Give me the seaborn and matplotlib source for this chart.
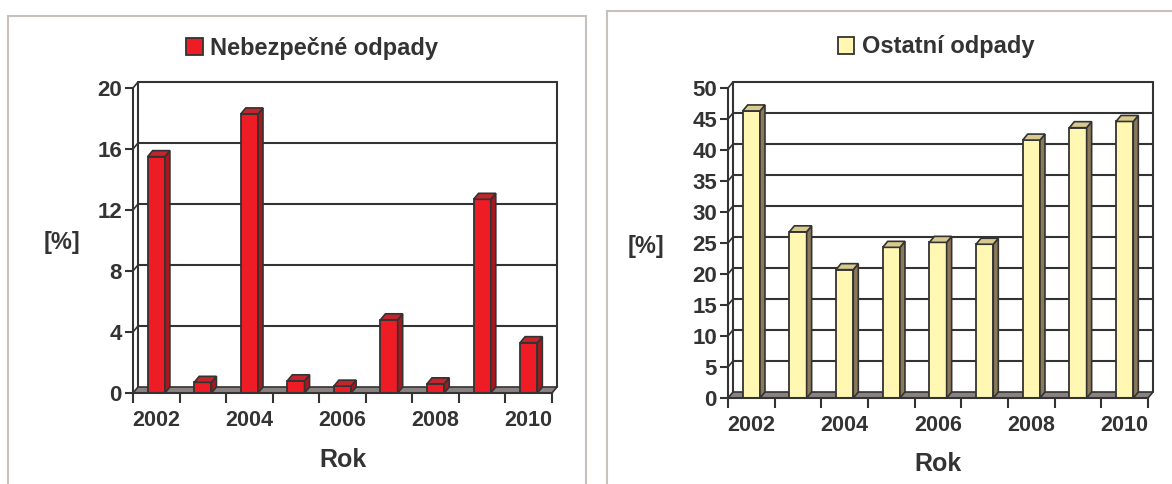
import matplotlib
matplotlib.use("Agg")
import matplotlib.pyplot as plt
import seaborn as sns
from matplotlib.patches import Polygon, Rectangle

years = ["2002", "2003", "2004", "2005", "2006", "2007", "2008", "2009", "2010"]
year_labels = ["2002", "", "2004", "", "2006", "", "2008", "", "2010"]
hazardous = [15.5, 0.7, 18.3, 0.8, 0.45, 4.8, 0.6, 12.7, 3.3]
other = [46.3, 26.8, 20.7, 24.3, 25.1, 24.8, 41.6, 43.6, 44.6]

DARK = "#333333"
FLOOR = "#8a8280"
W, H = 1172, 484

sns.set_style("white")
plt.rcParams["font.family"] = ["Liberation Sans", "DejaVu Sans"]
plt.rcParams["font.weight"] = "bold"
plt.rcParams["text.color"] = DARK

fig = plt.figure(figsize=(W / 100, H / 100), dpi=100)

# panel frames
fig.add_artist(Rectangle((8 / W, -0.05), 578 / W, (H - 16) / H + 0.05,
                         transform=fig.transFigure, fill=False, ec="#c9c0bc", lw=1.5))
fig.add_artist(Rectangle((607 / W, -0.05), 600 / W, (H - 11) / H + 0.05,
                         transform=fig.transFigure, fill=False, ec="#c9c0bc", lw=1.5))


def panel(rect, values, ymax, step, face, top, side, name, leg_xy, ylab_xy, xlab_xy):
    ax = fig.add_axes(rect)
    sns.barplot(x=years, y=values, color=face, width=0.37, saturation=1,
                edgecolor=DARK, linewidth=1.3, label=name, ax=ax, zorder=3)
    bars = list(ax.patches)
    ax.set_xlim(-0.5, 8.5)
    ax.set_ylim(0, ymax)
    bb = ax.get_window_extent()
    dx = 5 * 9 / bb.width
    dy = 6 * ymax / bb.height

    ticks = list(range(0, ymax + 1, step))
    # back wall with gridlines
    for v in ticks[1:]:
        ax.plot([-0.5 + dx, 8.5 + dx], [v + dy, v + dy], color=DARK, lw=1.5, zorder=1, clip_on=False)
        ax.plot([-0.5, -0.5 + dx], [v, v + dy], color=DARK, lw=1.2, zorder=1, clip_on=False)
    ax.plot([-0.5 + dx] * 2, [dy, ymax + dy], color=DARK, lw=1.5, zorder=1, clip_on=False)
    ax.plot([8.5 + dx] * 2, [dy, ymax + dy], color=DARK, lw=1.5, zorder=1, clip_on=False)
    # floor
    ax.add_patch(Polygon([(-0.5, 0), (8.5, 0), (8.5 + dx, dy), (-0.5 + dx, dy)],
                         fc=FLOOR, ec=DARK, lw=1.2, zorder=2, clip_on=False))
    # 3d faces of the bars
    for r in bars:
        x0, w, h = r.get_x(), r.get_width(), r.get_height()
        ax.add_patch(Polygon([(x0 + w, 0), (x0 + w + dx, dy), (x0 + w + dx, h + dy), (x0 + w, h)],
                             fc=side, ec=DARK, lw=1.2, zorder=3, clip_on=False))
        ax.add_patch(Polygon([(x0, h), (x0 + dx, h + dy), (x0 + w + dx, h + dy), (x0 + w, h)],
                             fc=top, ec=DARK, lw=1.2, zorder=3, clip_on=False))

    for s in ["top", "right"]:
        ax.spines[s].set_visible(False)
    for s in ["left", "bottom"]:
        ax.spines[s].set_color(DARK)
        ax.spines[s].set_linewidth(1.5)
        ax.spines[s].set_zorder(4)

    ax.set_yticks(ticks)
    ax.set_xticks(range(len(years)))
    ax.set_xticklabels(year_labels)
    ax.set_xticks([i - 0.5 for i in range(len(years) + 1)], minor=True)
    ax.tick_params(axis="y", left=True, length=6, width=1.5, color=DARK, pad=2,
                   labelsize=16, labelcolor=DARK)
    ax.tick_params(axis="x", which="major", bottom=True, length=0, pad=12,
                   labelsize=15.5, labelcolor=DARK)
    ax.tick_params(axis="x", which="minor", bottom=True, length=7, width=1.5, color=DARK)
    for t in ax.get_xticklabels() + ax.get_yticklabels():
        t.set_fontweight("bold")

    ax.set_ylabel("[%]", rotation=0, fontsize=17, fontweight="bold", color=DARK, va="center", ha="center")
    ax.yaxis.set_label_coords(*ylab_xy)
    ax.set_xlabel("Rok", fontsize=18, fontweight="bold", color=DARK, va="center")
    ax.xaxis.set_label_coords(*xlab_xy)

    ax.legend(loc="center", bbox_to_anchor=(leg_xy[0] / W, 1 - leg_xy[1] / H),
              bbox_transform=fig.transFigure, frameon=False, handlelength=0.7,
              handleheight=0.7, handletextpad=0.3, borderaxespad=0,
              prop={"size": 17, "weight": "bold"}, labelcolor=DARK)
    return ax


panel([133 / W, (H - 393) / H, 419 / W, 305 / H], hazardous, 20, 4,
      "#ee1c25", "#c4242b", "#a8181e", "Nebezpečné odpady",
      (312, 48), (-0.17, 0.495), (0.501, -0.22))
panel([728 / W, (H - 398) / H, 420 / W, 310 / H], other, 50, 5,
      "#fff7b2", "#d8c98e", "#8b7a5a", "Ostatní odpady",
      (936, 47), (-0.195, 0.49), (0.5, -0.213))

fig.savefig("out.png", dpi=100)
